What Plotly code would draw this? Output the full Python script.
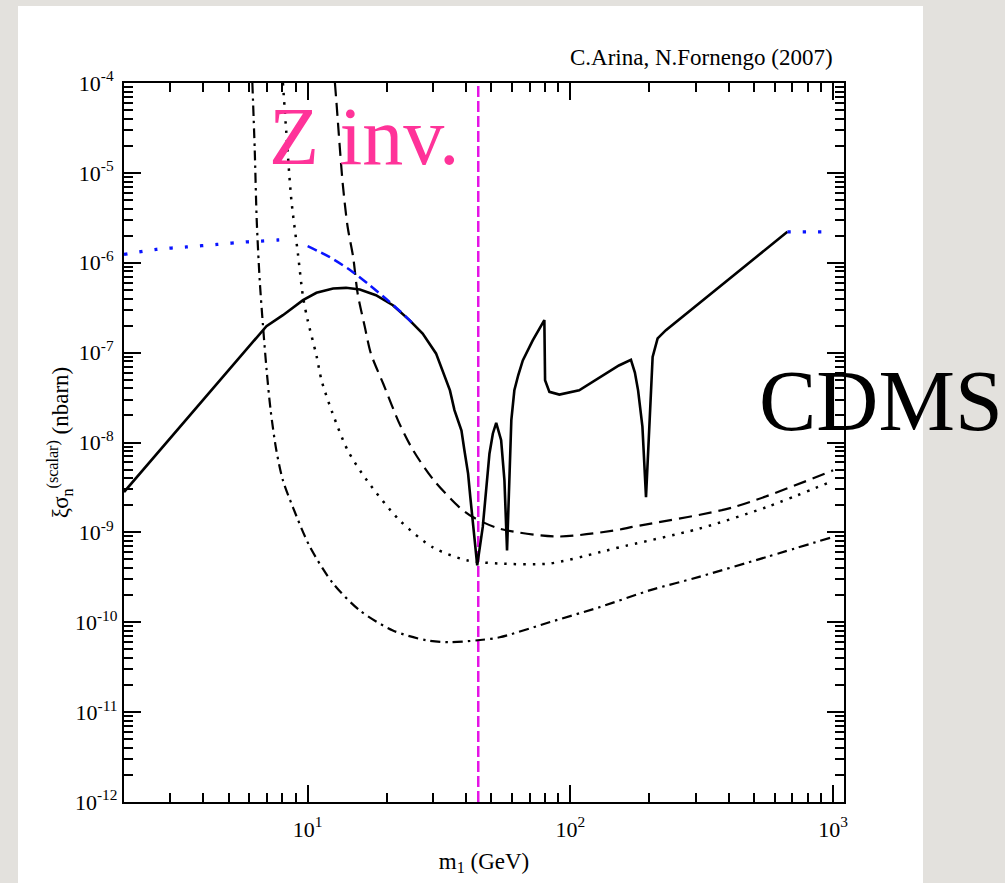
import math
import plotly.graph_objects as go

# ---------------- data (m in GeV, sigma in nbarn) ----------------
solid_m = [2.0, 6.97, 8.05, 9.6, 10.8, 12.5, 14.0, 15.8, 18.2, 21.1, 24.4, 27.4, 30.8,
           34.8, 36.2, 38.5, 39.5, 40.8, 41.6, 42.5, 44.2, 46.4, 47.8, 49.2, 50.7, 52.2,
           54.5, 55.3, 56.1, 57.4, 58.6, 59.6, 61.2, 63.3, 65.9, 71.9, 79.6, 80.1, 83.2,
           90.8, 108, 153, 170, 176, 181, 188, 194, 199, 202.8, 205.6, 214.8, 231, 670]
solid_s = [2.81e-9, 1.97e-7, 2.61e-7, 3.83e-7, 4.63e-7, 5.18e-7, 5.26e-7, 5.05e-7, 4.36e-7,
           3.37e-7, 2.30e-7, 1.63e-7, 9.8e-8, 3.8e-8, 2.29e-8, 1.36e-8, 8.2e-9, 4.5e-9,
           2.47e-9, 1.36e-9, 4.3e-10, 1.15e-9, 3.2e-9, 7.5e-9, 1.26e-8, 1.65e-8, 1.06e-8,
           6.9e-9, 3.8e-9, 6.3e-10, 5.8e-9, 1.77e-8, 3.81e-8, 5.6e-8, 8.2e-8, 1.37e-7,
           2.30e-7, 4.93e-8, 3.66e-8, 3.41e-8, 3.81e-8, 7.2e-8, 8.3e-8, 6.0e-8, 3.8e-8,
           1.5e-8, 2.47e-9, 1.0e-8, 3.8e-8, 8.95e-8, 1.44e-7, 1.78e-7, 2.21e-6]

dashed_m = [12.7, 12.85, 13.6, 14.2, 14.9, 15.5, 16.5, 17.4, 19.4, 22.4, 25.2, 30.0, 37.8,
            42.5, 53.8, 89.5, 153, 172, 416, 1000]
dashed_s = [1e-4, 6.5e-5, 7.6e-6, 2.5e-6, 1.16e-6, 4.55e-7, 1.94e-7, 9.8e-8, 4.5e-8, 1.6e-8,
            8.2e-9, 3.9e-9, 1.9e-9, 1.48e-9, 1.1e-9, 9.0e-10, 1.07e-9, 1.15e-9, 1.9e-9, 4.9e-9]

dotted_m = [8.05, 8.30, 8.67, 9.18, 9.60, 10.0, 10.8, 11.3, 12.4, 14.2, 16.8, 22.4, 30.0,
            40.3, 53.8, 83.2, 129, 153, 309, 555, 1000]
dotted_s = [1e-4, 2.75e-5, 5.0e-6, 1.27e-6, 4.2e-7, 2.3e-7, 9.3e-8, 4.9e-8, 2.17e-8, 8.2e-9,
            3.8e-9, 1.36e-9, 6.8e-10, 4.9e-10, 4.5e-10, 4.5e-10, 6.0e-10, 6.8e-10, 1.1e-9,
            1.9e-9, 3.75e-9]

dashdot_m = [6.16, 6.29, 6.40, 6.57, 6.76, 6.98, 7.23, 7.6, 8.05, 8.79, 10.2, 12.5, 15.8,
             21.1, 28.3, 34.6, 44.4, 53.8, 83.2, 129, 200, 309, 555, 1000]
dashdot_s = [1e-4, 1.8e-5, 2.98e-6, 6.4e-7, 2.0e-7, 6.4e-8, 2.28e-8, 8.2e-9, 3.8e-9, 1.9e-9,
             6.9e-10, 2.7e-10, 1.35e-10, 8.1e-11, 6.3e-11, 6.0e-11, 6.3e-11, 6.8e-11, 1.0e-10,
             1.47e-10, 2.26e-10, 3.2e-10, 5.3e-10, 8.9e-10]

cdms_dot_low_m = [2.0, 2.66, 3.46, 4.52, 5.93, 6.67, 7.7, 8.0]
cdms_dot_low_s = [1.24e-6, 1.41e-6, 1.50e-6, 1.60e-6, 1.71e-6, 1.74e-6, 1.79e-6, 1.80e-6]
cdms_dash_m = [10.0, 12.1, 14.5, 17.2, 20.5, 23.7, 25.5]
cdms_dash_s = [1.53e-6, 1.16e-6, 8.3e-7, 5.64e-7, 3.67e-7, 2.50e-7, 2.02e-7]
cdms_dot_high_m = [670, 930]
cdms_dot_high_s = [2.21e-6, 2.21e-6]

zinv_m = [44.6, 44.6]
zinv_s = [1e-12, 1e-4]

x_major = [10, 100, 1000]
x_major_text = ["10<sup>1</sup>", "10<sup>2</sup>", "10<sup>3</sup>"]
y_exponents = list(range(-12, -3))
y_major = [10.0 ** e for e in y_exponents]
# labels are centred in the reference: pad single-digit exponents on the right
y_major_text = ["10<sup>%d%s</sup>" % (e, "" if e <= -10 else "\u00a0") for e in y_exponents]

x_minor = [k * 10 ** n for n in range(0, 3) for k in range(2, 10) if 2 <= k * 10 ** n <= 1100]
y_minor = [k * 10.0 ** n for n in range(-12, -4) for k in range(2, 10)]

SERIF = "Liberation Serif, Times New Roman, serif"

fig = go.Figure()


def add(xs, ys, color, width, dash, shape="linear"):
    line = dict(color=color, width=width, dash=dash, shape=shape)
    if shape == "spline":
        line["smoothing"] = 0.8
    fig.add_trace(go.Scatter(x=xs, y=ys, mode="lines", line=line,
                             hoverinfo="skip", showlegend=False))


add(zinv_m, zinv_s, "#e614e6", 2.5, "11px,4px")
add(dashdot_m, dashdot_s, "black", 2.2, "10px,5px,2.5px,5px", "spline")
add(dotted_m, dotted_s, "black", 2.5, "2.5px,7px", "spline")
add(dashed_m, dashed_s, "black", 2.2, "13px,7px", "spline")
add(solid_m, solid_s, "black", 2.6, "solid")
add(cdms_dot_low_m, cdms_dot_low_s, "#0a14ff", 3.3, "3.3px,12px", "spline")
add(cdms_dash_m, cdms_dash_s, "#0a14ff", 2.5, "10px,5px", "spline")
add(cdms_dot_high_m, cdms_dot_high_s, "#0a14ff", 3.3, "3.3px,12px")

axis_common = dict(
    type="log", showgrid=False, zeroline=False, showline=True, linecolor="black",
    linewidth=2.2, mirror="ticks", ticks="inside", ticklen=17, tickwidth=1.7,
    tickcolor="black", tickmode="array",
    tickfont=dict(family=SERIF, size=22, color="black"),
)

fig.update_xaxes(
    **axis_common,
    range=[math.log10(2), math.log10(1100)],
    tickvals=x_major, ticktext=x_major_text,
    minor=dict(tickmode="array", tickvals=x_minor, ticks="inside", ticklen=9,
               tickwidth=1.5, tickcolor="black", showgrid=False),
    ticklabelstandoff=6,
    title=dict(text="m<sub>1</sub> (GeV)", font=dict(family=SERIF, size=23, color="black"),
               standoff=12),
)
fig.update_yaxes(
    **axis_common,
    range=[-12, -4],
    tickvals=y_major, ticktext=y_major_text,
    minor=dict(tickmode="array", tickvals=y_minor, ticks="inside", ticklen=9,
               tickwidth=1.5, tickcolor="black", showgrid=False),
    ticklabelstandoff=0,
    title=dict(text="ξσ<sub>n</sub><sup>(scalar)</sup> (nbarn)",
               font=dict(family=SERIF, size=23, color="black"), standoff=0),
)

fig.update_layout(
    width=1005, height=883,
    margin=dict(l=124, r=161, t=83, b=81, pad=0),
    paper_bgcolor="#e3e1dd", plot_bgcolor="white",
    font=dict(family=SERIF, color="black"),
    shapes=[dict(type="rect", xref="paper", yref="paper", x0=-0.1472, x1=1.1097,
                 y0=-0.13, y1=1.1071, fillcolor="white", line=dict(width=0), layer="below")],
    annotations=[
        dict(text="C.Arina, N.Fornengo (2007)", xref="paper", yref="paper", x=0.9875,
             y=1.0348, xanchor="right", yanchor="middle", showarrow=False,
             font=dict(family=SERIF, size=23, color="black")),
        dict(text="Z inv.", xref="paper", yref="paper", x=0.198, y=0.925,
             xanchor="left", yanchor="middle", showarrow=False,
             font=dict(family=SERIF, size=82, color="#ff3399")),
        dict(text="CDMS", xref="paper", yref="paper", x=0.879, y=0.558,
             xanchor="left", yanchor="middle", showarrow=False,
             font=dict(family=SERIF, size=86, color="black")),
    ],
)

fig.write_html("out.html")
